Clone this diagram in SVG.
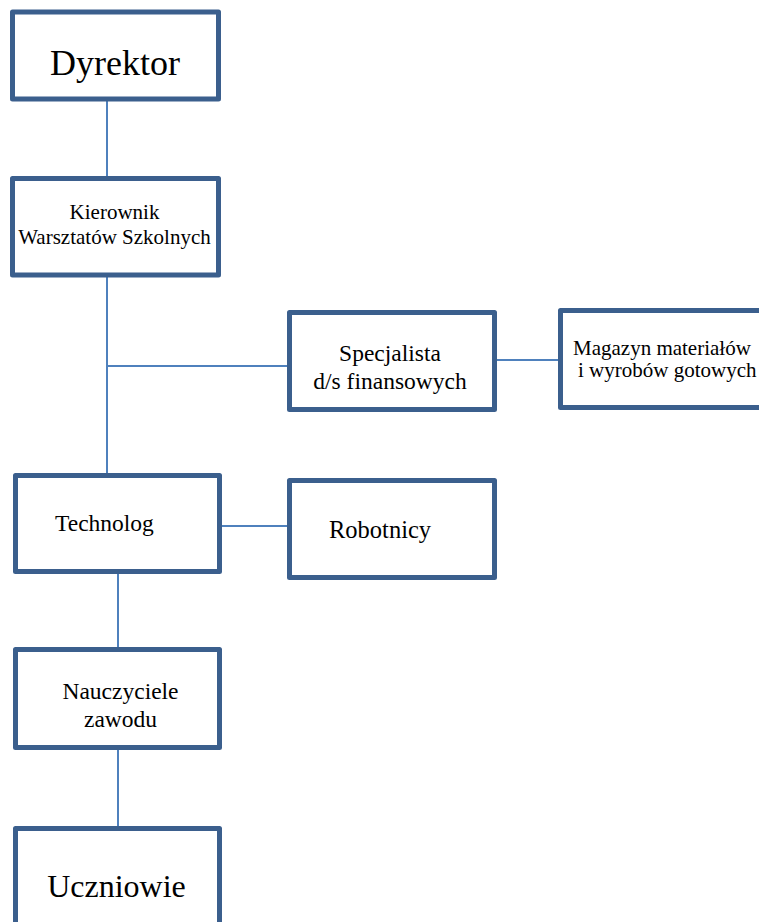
<svg xmlns="http://www.w3.org/2000/svg" width="759" height="922" viewBox="0 0 759 922">
<style>
.box{fill:#fff;stroke:#3B5F8D;stroke-width:5;stroke-linejoin:round}
.ln{stroke:#4F81BD;stroke-width:2;fill:none}
text{font-family:"Liberation Serif","Times New Roman",serif;fill:#000}
.c{text-anchor:middle}
</style>
<rect width="759" height="922" fill="#fff"/>
<g id="connectors">
<line class="ln" x1="107" y1="101" x2="107" y2="177"/>
<line class="ln" x1="107" y1="277" x2="107" y2="474"/>
<line class="ln" x1="107" y1="366" x2="288" y2="366"/>
<line class="ln" x1="497" y1="360" x2="559" y2="360"/>
<line class="ln" x1="222" y1="526" x2="288" y2="526"/>
<line class="ln" x1="118" y1="574" x2="118" y2="648"/>
<line class="ln" x1="118" y1="750" x2="118" y2="827"/>
</g>
<g id="dyrektor">
<rect class="box" x="12.5" y="12" width="206" height="87"/>
<text class="c" x="115" y="75" font-size="36">Dyrektor</text>
</g>
<g id="kierownik">
<rect class="box" x="12.5" y="178.5" width="206" height="96.5"/>
<text class="c" x="114.5" y="219" font-size="21">Kierownik</text>
<text class="c" x="114.5" y="244" font-size="21">Warsztatów Szkolnych</text>
</g>
<g id="specjalista">
<rect class="box" x="289.5" y="312.5" width="205" height="97"/>
<text class="c" x="390" y="361" font-size="23.5">Specjalista</text>
<text class="c" x="390" y="389" font-size="23.5">d/s finansowych</text>
</g>
<g id="magazyn">
<rect class="box" x="560.5" y="310.5" width="220" height="97"/>
<text x="573" y="355" font-size="21">Magazyn materiałów</text>
<text x="578" y="377" font-size="21">i wyrobów gotowych</text>
</g>
<g id="technolog">
<rect class="box" x="15.5" y="475.5" width="204" height="96"/>
<text x="55" y="531" font-size="23.5">Technolog</text>
</g>
<g id="robotnicy">
<rect class="box" x="289.5" y="480.5" width="205" height="97"/>
<text x="329" y="538" font-size="24.5">Robotnicy</text>
</g>
<g id="nauczyciele">
<rect class="box" x="15.5" y="649.5" width="204" height="98"/>
<text class="c" x="120.5" y="699" font-size="23.5">Nauczyciele</text>
<text class="c" x="120.5" y="727" font-size="23.5">zawodu</text>
</g>
<g id="uczniowie">
<rect class="box" x="15.5" y="828.5" width="204" height="120"/>
<text class="c" x="116.5" y="897" font-size="32">Uczniowie</text>
</g>
</svg>
